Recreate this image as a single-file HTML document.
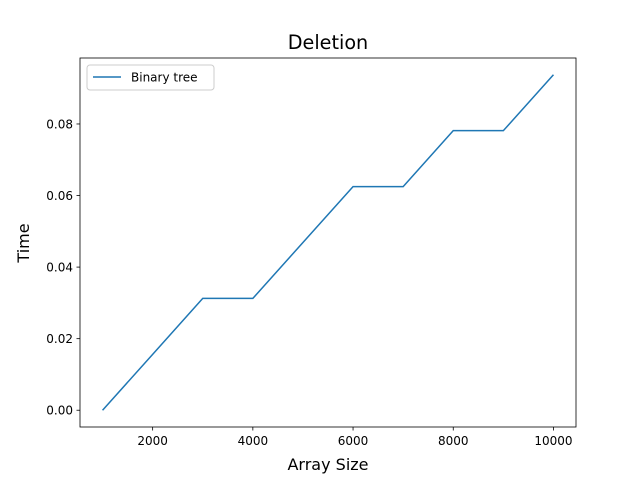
<!DOCTYPE html>
<html><head><meta charset="utf-8"><style>
body{margin:0;background:#fff}
svg text{font-family:"DejaVu Sans","Liberation Sans",sans-serif;fill:#000}
</style></head><body>
<svg id="chart" width="640" height="480" xmlns="http://www.w3.org/2000/svg">
<rect width="640" height="480" fill="#fff"/>
<text x="328" y="49" font-size="19.2" text-anchor="middle">Deletion</text>
<g id="ticks"></g>
<polyline id="line" fill="none" stroke="#1f77b4" stroke-width="1.5"/>
<rect x="80" y="58" width="496" height="369" fill="none" stroke="#000" stroke-width="0.8"/>
<text x="328" y="470" font-size="16" text-anchor="middle">Array Size</text>
<text transform="translate(29,243) rotate(-90)" font-size="16" text-anchor="middle">Time</text>
<g>
<rect x="87" y="65" width="127" height="25" rx="3" fill="#fff" stroke="#ccc" stroke-width="1"/>
<line x1="93" y1="77" x2="121" y2="77" stroke="#1f77b4" stroke-width="1.5"/>
<text x="131" y="81.5" font-size="12">Binary tree</text>
</g>
</svg>
<script>
const xs=[1000,2000,3000,4000,5000,6000,7000,8000,9000,10000];
const ys=[0,0.015625,0.03125,0.03125,0.046875,0.0625,0.0625,0.078125,0.078125,0.09375];
const xTicks=[2000,4000,6000,8000,10000];
const yTicks=[0,0.02,0.04,0.06,0.08];
const yTickLabels=["0.00","0.02","0.04","0.06","0.08"];
const L=80,R=576,T=58,B=427;
const xmin=550,xmax=10450,ymin=-0.0046875,ymax=0.0984375;
const sx=v=>L+(v-xmin)/(xmax-xmin)*(R-L);
const sy=v=>B-(v-ymin)/(ymax-ymin)*(B-T);
const ns="http://www.w3.org/2000/svg";
const g=document.getElementById('ticks');
xTicks.forEach(v=>{
 const l=document.createElementNS(ns,'line');
 l.setAttribute('x1',sx(v));l.setAttribute('x2',sx(v));l.setAttribute('y1',B);l.setAttribute('y2',B+3.5);l.setAttribute('stroke','#000');l.setAttribute('stroke-width','0.8');
 
 
 g.appendChild(l);
 const t=document.createElementNS(ns,'text');
 t.setAttribute('x',sx(v));t.setAttribute('y',B+18);t.setAttribute('font-size','12');t.setAttribute('text-anchor','middle');t.textContent=v;
 
 
 g.appendChild(t);
});
yTicks.forEach((v,i)=>{
 const l=document.createElementNS(ns,'line');
 l.setAttribute('x1',L-3.5);l.setAttribute('x2',L);l.setAttribute('y1',sy(v));l.setAttribute('y2',sy(v));l.setAttribute('stroke','#000');l.setAttribute('stroke-width','0.8');
 
 
 g.appendChild(l);
 const t=document.createElementNS(ns,'text');
 t.setAttribute('x',L-7);t.setAttribute('y',sy(v)+4.5);t.setAttribute('font-size','12');t.setAttribute('text-anchor','end');t.textContent=yTickLabels[i];
 
 
 g.appendChild(t);
});
document.getElementById('line').setAttribute('points',xs.map((x,i)=>sx(x)+','+sy(ys[i])).join(' '));
</script>
</body></html>
